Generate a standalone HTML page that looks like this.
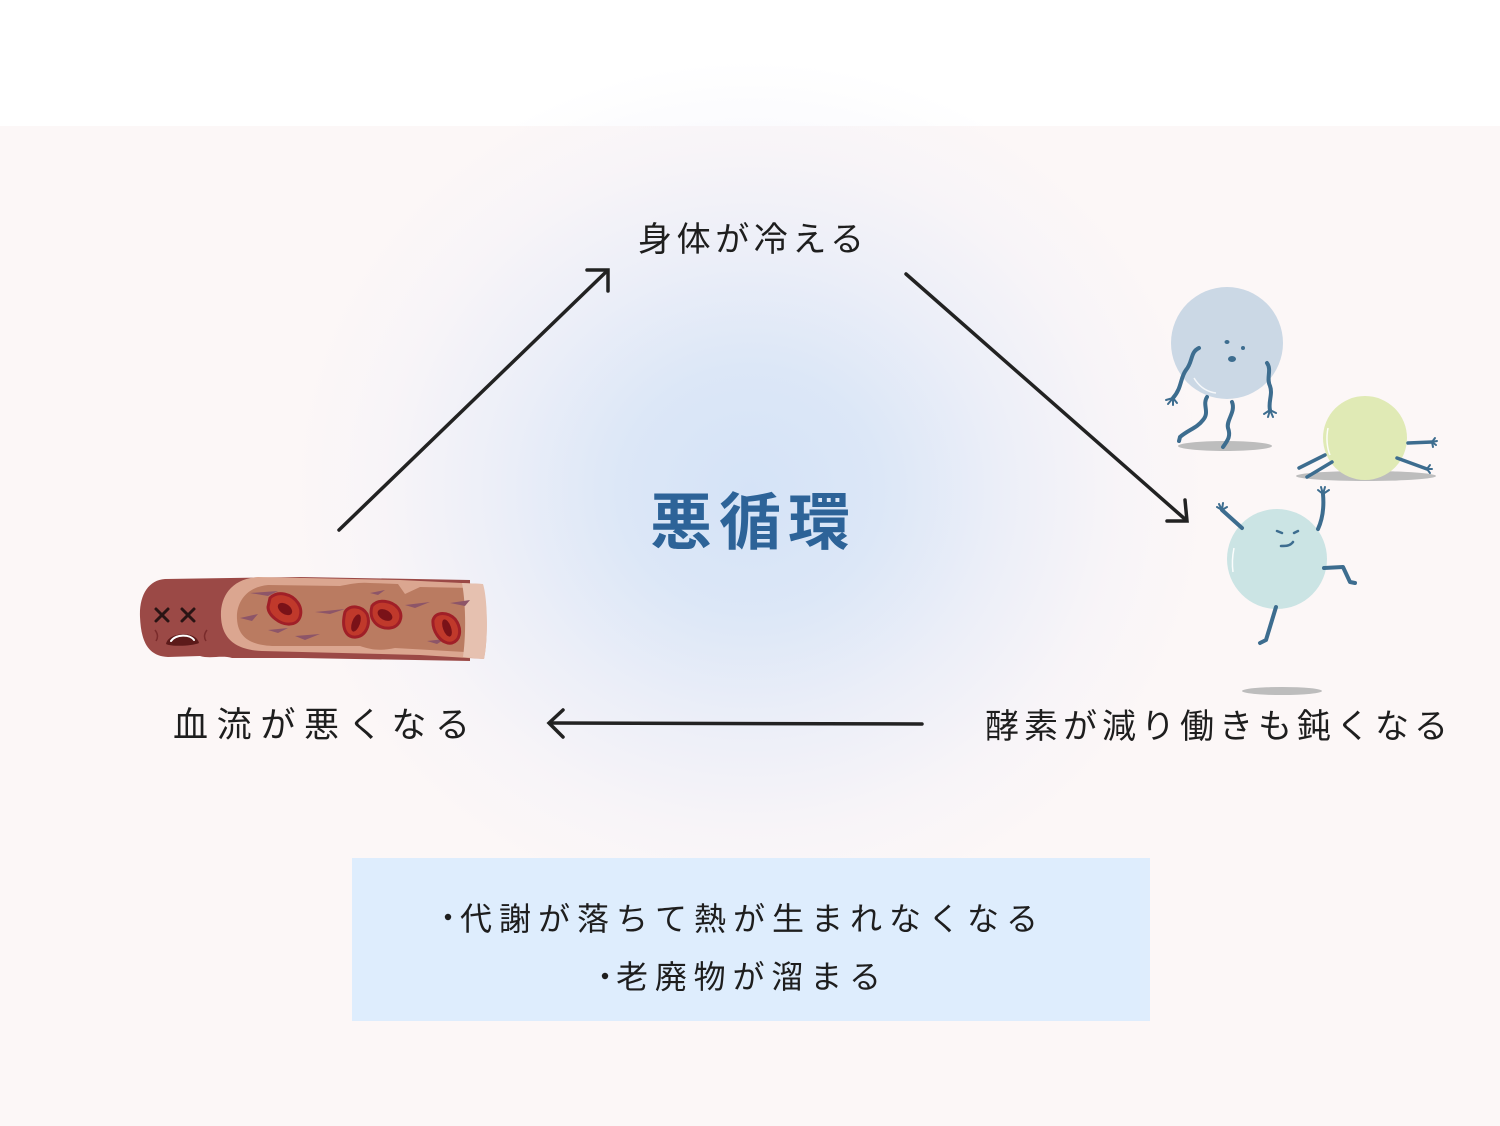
<!DOCTYPE html>
<html>
<head>
<meta charset="utf-8">
<style>
html,body{margin:0;padding:0;}
body{width:1500px;height:1126px;position:relative;overflow:hidden;background:#ffffff;}
.pink{position:absolute;left:0;top:126px;width:1500px;height:1000px;background:#fcf7f7;}
.glow{position:absolute;left:0;top:0;width:1500px;height:1126px;
background:radial-gradient(ellipse 460px 430px at 750px 490px, rgba(213,227,247,1) 0%, rgba(218,230,247,0.95) 28%, rgba(229,235,248,0.7) 55%, rgba(240,240,249,0.35) 80%, rgba(252,247,250,0) 100%);}
svg{position:absolute;left:0;top:0;}
text{font-family:"Liberation Sans","Noto Sans CJK JP",sans-serif;}
</style>
</head>
<body>
<div class="pink"></div>
<div class="glow"></div>
<svg width="1500" height="1126" viewBox="0 0 1500 1126" xmlns="http://www.w3.org/2000/svg">
  <!-- info box -->
  <rect x="352" y="858" width="798" height="163" fill="#deedfd"/>

  <!-- arrows -->
  <g stroke="#222" stroke-width="3.5" fill="none" stroke-linecap="round" stroke-linejoin="miter">
    <line x1="339" y1="530" x2="607" y2="271"/>
    <polyline points="587,270 608,270 608,291"/>
    <line x1="906" y1="274" x2="1186" y2="520"/>
    <polyline points="1167,521 1187,521 1185,500"/>
    <line x1="922" y1="724" x2="551" y2="723"/>
    <polyline points="563,710 549,723 563,737"/>
  </g>

  <!-- labels -->
  <text x="638" y="251" font-size="34" fill="#1e1e1e" textLength="226" lengthAdjust="spacing">身体が冷える</text>
  <text x="173" y="737" font-size="35" fill="#1e1e1e" textLength="297" lengthAdjust="spacing">血流が悪くなる</text>
  <text x="985" y="738" font-size="34" fill="#1e1e1e" textLength="463" lengthAdjust="spacing">酵素が減り働きも鈍くなる</text>
  <text x="650" y="544" font-size="62" font-weight="bold" fill="#2d6398" textLength="200" lengthAdjust="spacing">悪循環</text>

  <circle cx="448" cy="917" r="3.2" fill="#1e1e1e"/>
  <text x="460" y="930" font-size="32" fill="#1e1e1e" textLength="578" lengthAdjust="spacing">代謝が落ちて熱が生まれなくなる</text>
  <circle cx="605" cy="976" r="3.2" fill="#1e1e1e"/>
  <text x="616" y="988" font-size="32" fill="#1e1e1e" textLength="265" lengthAdjust="spacing">老廃物が溜まる</text>

  <!-- blood vessel -->
  <g>
    <path d="M165,579 C148,580 139,596 140,617 C141,640 147,656 168,657 L200,656 C210,659 222,655 232,658 L300,658 L470,661 L470,580 L300,577 Z" fill="#9b4946"/>
    <path d="M258,577 C230,579 220,598 221,617 C222,639 236,650 262,651 L420,655 L484,659 C488,640 488,600 482,584 L400,580 Z" fill="#dba690"/>
    <path d="M268,585 C246,587 236,603 237,619 C238,637 250,645 272,646 L360,646 C372,650 380,651 395,648 L465,652 L472,588 L420,587 L405,594 L398,584 L370,583 C360,582 350,584 340,586 Z" fill="#ba7b61"/>
    <path d="M462,583 L483,584 C488,600 488,640 484,659 L463,657 C466,635 466,605 462,583 Z" fill="#e6c1b0"/>
    <!-- streaks -->
    <g fill="#8d5568">
      <path d="M250,593 L278,591 L268,596 Z"/>
      <path d="M240,618 L258,614 L252,621 Z"/>
      <path d="M315,612 L345,609 L330,614 Z"/>
      <path d="M295,636 L320,634 L305,640 Z"/>
      <path d="M370,593 L385,590 L378,595 Z"/>
      <path d="M405,605 L430,602 L415,608 Z"/>
      <path d="M450,603 L470,600 L465,606 Z"/>
      <path d="M427,641 L445,639 L437,644 Z"/>
      <path d="M268,630 L288,628 L278,633 Z"/>
    </g>
    <!-- blood cells -->
    <g>
      <path d="M270,598 C278,590 292,594 298,603 C304,612 300,624 290,624 C280,625 268,615 268,607 Z" fill="#c0392b" stroke="#a01f27" stroke-width="3"/>
      <ellipse cx="285" cy="609" rx="8" ry="5" transform="rotate(35 285 609)" fill="#7a1218"/>
      <path d="M345,612 C350,604 362,606 367,614 C371,624 366,636 356,637 C346,638 341,628 345,612 Z" fill="#c0392b" stroke="#a01f27" stroke-width="3"/>
      <ellipse cx="356" cy="623" rx="4" ry="9" transform="rotate(20 356 623)" fill="#7a1218"/>
      <path d="M372,606 C378,598 392,601 398,608 C404,616 400,627 390,628 C378,629 368,620 372,606 Z" fill="#c0392b" stroke="#a01f27" stroke-width="3"/>
      <ellipse cx="385" cy="615" rx="8" ry="5" transform="rotate(30 385 615)" fill="#7a1218"/>
      <path d="M433,620 C436,611 448,612 455,619 C462,628 461,640 452,643 C442,645 432,632 433,620 Z" fill="#c0392b" stroke="#a01f27" stroke-width="3"/>
      <ellipse cx="447" cy="628" rx="4" ry="9" transform="rotate(-20 447 628)" fill="#7a1218"/>
    </g>
    <!-- face -->
    <g stroke="#2a1414" stroke-width="3" stroke-linecap="round">
      <line x1="156" y1="609" x2="168" y2="621"/><line x1="168" y1="609" x2="156" y2="621"/>
      <line x1="182" y1="609" x2="194" y2="621"/><line x1="194" y1="609" x2="182" y2="621"/>
    </g>
    <path d="M166,644 C168,632 196,630 199,643 C193,646 172,647 166,644 Z" fill="#5c1a1a"/>
    <path d="M171,641 C176,634 190,634 194,640" stroke="#fff" stroke-width="2" fill="none" stroke-linecap="round"/>
    <path d="M155,630 C158,634 158,638 156,641" stroke="#7a2b2b" stroke-width="1.5" fill="none"/>
    <path d="M207,630 C204,634 204,638 206,641" stroke="#7a2b2b" stroke-width="1.5" fill="none"/>
  </g>

  <!-- characters -->
  <!-- shadows -->
  <ellipse cx="1225" cy="446" rx="47" ry="5" fill="#bdbdbd"/>
  <ellipse cx="1366" cy="476" rx="70" ry="5" fill="#bdbdbd"/>
  <ellipse cx="1282" cy="691" rx="40" ry="4" fill="#bdbdbd"/>

  <!-- blue ball -->
  <circle cx="1227" cy="343" r="56" fill="#cbd8e5"/>
  <path d="M1194,378 C1200,388 1208,392 1216,393" stroke="#fff" stroke-width="1.5" fill="none" opacity="0.8"/>
  <g stroke="#3d6d8f" stroke-width="4" fill="none" stroke-linecap="round">
    <path d="M1199,348 C1190,352 1193,362 1186,370 C1180,378 1182,388 1173,398"/>
    <path d="M1267,363 C1272,370 1266,378 1270,386 C1273,394 1268,402 1270,410"/>
    <path d="M1207,397 C1202,405 1210,412 1203,420 C1197,428 1188,430 1180,437 L1179,441"/>
    <path d="M1232,402 C1236,412 1226,420 1228,428 C1231,436 1228,440 1223,447"/>
  </g>
  <g stroke="#3d6d8f" stroke-width="2" stroke-linecap="round">
    <path d="M1173,398 l-7,2 M1173,398 l-5,6 M1173,398 l0,7 M1173,398 l4,5"/>
    <path d="M1270,410 l-6,4 M1270,410 l-2,7 M1270,410 l3,7 M1270,410 l6,3"/>
  </g>
  <g fill="#3d6d8f">
    <ellipse cx="1227" cy="342" rx="2.5" ry="2"/>
    <ellipse cx="1243" cy="348" rx="2" ry="2"/>
    <ellipse cx="1232" cy="359" rx="4" ry="3"/>
  </g>

  <!-- green ball -->
  <circle cx="1365" cy="438" r="42" fill="#e0eab5"/>
  <path d="M1328,428 C1326,438 1327,448 1330,455" stroke="#fff" stroke-width="1.5" fill="none" opacity="0.9"/>
  <g stroke="#3d6d8f" stroke-width="3.5" fill="none" stroke-linecap="round">
    <path d="M1408,443 L1432,442"/>
    <path d="M1397,458 L1427,469"/>
    <path d="M1325,455 L1299,468"/>
    <path d="M1332,462 L1307,477"/>
  </g>
  <g stroke="#3d6d8f" stroke-width="2" stroke-linecap="round">
    <path d="M1432,442 l3,-4 M1432,442 l5,-1 M1432,442 l4,3 M1432,442 l1,5"/>
    <path d="M1427,469 l3,-4 M1427,469 l5,0 M1427,469 l3,4"/>
  </g>

  <!-- teal ball -->
  <circle cx="1277" cy="559" r="50" fill="#cbe4e4"/>
  <path d="M1234,548 C1232,558 1232,565 1233,572" stroke="#fff" stroke-width="1.5" fill="none" opacity="0.9"/>
  <g stroke="#3d6d8f" stroke-width="4" fill="none" stroke-linecap="round" stroke-linejoin="round">
    <path d="M1242,528 L1222,510"/>
    <path d="M1318,529 C1323,518 1324,505 1323,494"/>
    <path d="M1324,568 L1343,567 L1350,582 L1355,583"/>
    <path d="M1276,607 L1266,640 L1260,643"/>
  </g>
  <g stroke="#3d6d8f" stroke-width="2" stroke-linecap="round">
    <path d="M1222,510 l-5,-3 M1222,510 l-3,-6 M1222,510 l1,-7 M1222,510 l5,-3"/>
    <path d="M1323,494 l-5,-4 M1323,494 l-2,-7 M1323,494 l2,-7 M1323,494 l6,-4"/>
  </g>
  <g stroke="#3d6d8f" stroke-width="2.5" fill="none" stroke-linecap="round">
    <path d="M1277,531 l5,2"/>
    <path d="M1298,531 l-4,2"/>
    <path d="M1281,546 C1286,546 1290,546 1293,542"/>
  </g>
</svg>
</body>
</html>
